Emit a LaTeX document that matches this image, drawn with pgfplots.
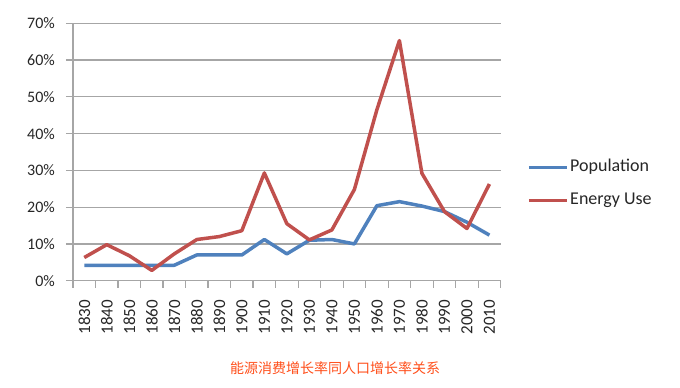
\documentclass[border=0pt]{standalone}
\usepackage{pgfplots}
\pgfplotsset{compat=1.18}
\usepackage{fontspec}
\setmainfont{Carlito}
\newfontfamily\cjk{Noto Sans CJK SC}
\definecolor{popblue}{HTML}{4F81BD}
\definecolor{enred}{HTML}{C0504D}
\definecolor{gridgray}{HTML}{A6A6A6}
\definecolor{titleorange}{HTML}{FF4E1A}
\begin{document}
\begin{tikzpicture}[x=1pt,y=1pt]
\path[use as bounding box] (0,0) rectangle (680,388);
\begin{axis}[
  at={(73pt,107.3pt)}, anchor=south west,
  scale only axis, width=427.7pt, height=257.4pt,
  xmin=-0.5, xmax=18.5, ymin=0, ymax=70,
  axis x line*=bottom, axis y line*=left,
  axis line style={draw=gridgray, line width=1.2pt},
  ytick={0,10,...,70},
  yticklabels={0\%,10\%,20\%,30\%,40\%,50\%,60\%,70\%},
  ymajorgrids, grid style={draw=gridgray, line width=1.2pt},
  xtick={0,...,18},
  xticklabels={1830,1840,1850,1860,1870,1880,1890,1900,1910,1920,1930,1940,1950,1960,1970,1980,1990,2000,2010},
  major x tick style={draw=none},
  minor xtick={-0.5,0.5,...,18.5},
  minor x tick style={draw=gridgray, line width=1.2pt},
  minor tick length=7pt,
  major tick length=7pt,
  y tick style={draw=gridgray, line width=1.2pt},
  tick align=outside,
  tick label style={font=\fontsize{16}{19}\selectfont, text=black!85},
  x tick label style={yshift=-12pt, rotate=90, anchor=east, inner sep=0pt, font=\fontsize{17}{20}\selectfont},
  y tick label style={anchor=east, inner sep=0pt, xshift=-11pt},
  legend style={at={(1.0545,0.3755)}, anchor=west, draw=none, fill=none,
    font=\fontsize{18}{21}\selectfont, row sep=14pt,
    nodes={inner sep=1.5pt, text height=12pt, text depth=4pt, text=black!85}},
  legend cell align=left,
  legend image code/.code={\draw[#1, line width=3.5pt] (0pt,0pt) -- (38pt,0pt);},
  clip=false,
]
\addplot[popblue, line width=3.5pt, line join=round] coordinates {
(0,4.2)(1,4.2)(2,4.2)(3,4.2)(4,4.2)(5,7.0)(6,7.0)(7,7.0)(8,11.2)(9,7.3)
(10,11.0)(11,11.2)(12,10.0)(13,20.4)(14,21.5)(15,20.3)(16,18.8)(17,15.9)(18,12.4)};
\addlegendentry{Population}
\addplot[enred, line width=3.5pt, line join=round] coordinates {
(0,6.3)(1,9.8)(2,6.8)(3,2.8)(4,7.3)(5,11.2)(6,12.0)(7,13.6)(8,29.3)(9,15.5)
(10,11.1)(11,13.8)(12,24.8)(13,46.5)(14,65.3)(15,29.2)(16,18.8)(17,14.2)(18,26.3)};
\addlegendentry{Energy Use}
\end{axis}
\node[text=titleorange, font=\cjk\fontsize{14}{16}\selectfont, anchor=center] at (335,20) {能源消费增长率同人口增长率关系};
\end{tikzpicture}
\end{document}
